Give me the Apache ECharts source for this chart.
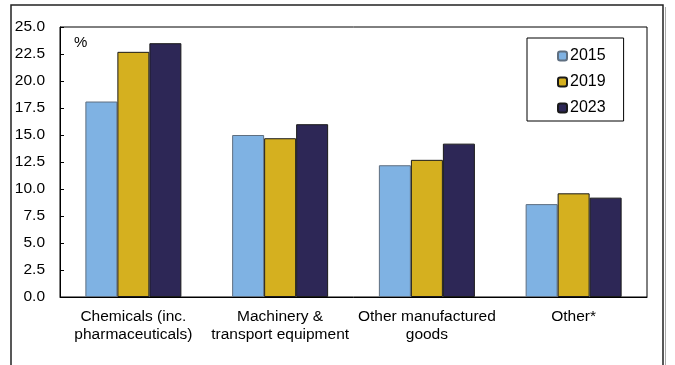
<!DOCTYPE html>
<html>
<head>
<meta charset="utf-8">
<script src="https://cdn.jsdelivr.net/npm/echarts@6/dist/echarts.min.js"></script>
<style>
  html, body { margin: 0; padding: 0; background: #fff; }
  #chart { width: 675px; height: 365px; }
</style>
</head>
<body>
<div id="chart"></div>
<script>
// Export shares by product group (%)
const categories = [
  'Chemicals (inc.\npharmaceuticals)',
  'Machinery &\ntransport equipment',
  'Other manufactured\ngoods',
  'Other*'
];
const years = ['2015', '2019', '2023'];
const values2015 = [18.1, 15.0, 12.2, 8.6];
const values2019 = [22.7, 14.7, 12.7, 9.6];
const values2023 = [23.5, 16.0, 14.2, 9.2];
const yTicks = { min: 0, max: 25, interval: 2.5 };

const FONT = '"Liberation Sans", Arial, sans-serif';
const palette = ['#7FB2E3', '#D5B01F', '#2D2756'];
const borders = ['#5f6f80', '#1a1a1a', '#1a1a1a'];
const seriesValues = [values2015, values2019, values2023];

const chart = echarts.init(document.getElementById('chart'), null, { renderer: 'canvas' });

chart.setOption({
  animation: false,
  textStyle: { fontFamily: FONT },
  grid: {
    left: 60, right: 28, top: 27, bottom: 68,
    show: true, borderColor: '#000', borderWidth: 1, backgroundColor: 'transparent'
  },
  legend: {
    orient: 'vertical',
    left: 527, top: 38,
    width: 100,
    padding: [10, 18, 5, 30],
    itemWidth: 9, itemHeight: 9, itemGap: 10,
    borderColor: '#000', borderWidth: 1,
    textStyle: { fontFamily: FONT, fontSize: 16, color: '#000', lineHeight: 15, padding: [0, 0, 0, -2] },
    data: years
  },
  xAxis: {
    type: 'category',
    data: categories,
    axisLine: { lineStyle: { color: '#000', width: 1 } },
    axisTick: { show: false },
    axisLabel: {
      color: '#000', fontSize: 15.5, fontFamily: FONT,
      lineHeight: 18, margin: 11, interval: 0
    }
  },
  yAxis: {
    type: 'value',
    min: yTicks.min, max: yTicks.max, interval: yTicks.interval,
    axisLine: { show: true, lineStyle: { color: '#000', width: 1 } },
    axisTick: { show: true, inside: true, length: 4, lineStyle: { color: '#000' } },
    splitLine: { show: false },
    axisLabel: {
      color: '#000', fontSize: 15.5, fontFamily: FONT, margin: 15,
      formatter: v => v.toFixed(1)
    }
  },
  series: years.map((y, i) => ({
    name: y,
    type: 'bar',
    data: seriesValues[i],
    barWidth: 32,
    barGap: '0%',
    itemStyle: { color: palette[i], borderColor: borders[i], borderWidth: 1 }
  })),
  graphic: [
    {
      type: 'rect',
      shape: { x: 11, y: 5, width: 652, height: 420 },
      style: { fill: 'none', stroke: '#222', lineWidth: 1.5 },
      silent: true
    },
    {
      type: 'line',
      shape: { x1: 665.5, y1: 7, x2: 665.5, y2: 365 },
      style: { stroke: '#aaa', lineWidth: 1 },
      silent: true
    },
    {
      type: 'text',
      left: 74, top: 35,
      style: { text: '%', fontSize: 15, fontFamily: FONT, fill: '#000' }
    }
  ]
});
</script>
</body>
</html>
